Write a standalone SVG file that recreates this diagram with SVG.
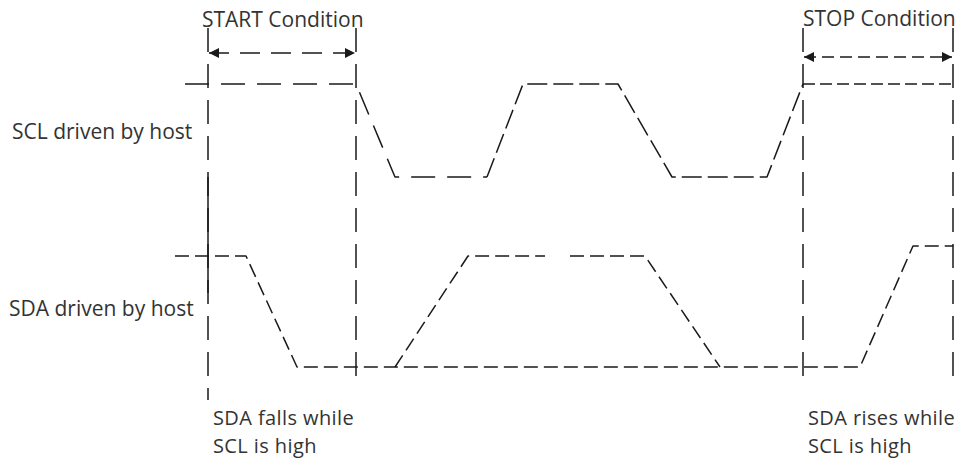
<svg xmlns="http://www.w3.org/2000/svg" width="962" height="461" viewBox="0 0 962 461">
  <style>
    .bg { fill: #ffffff; }
    .lbl { font-family: "Open Sans", "Liberation Sans", sans-serif; font-size: 21px; fill: #333333; }
    .note { font-family: "Open Sans", "Liberation Sans", sans-serif; font-size: 20px; letter-spacing: 0.4px; fill: #333333; }
    .mark { fill: none; stroke: #1a1a1a; stroke-width: 1.5; stroke-dasharray: 24 12; }
    .solid { fill: none; stroke: #1a1a1a; stroke-width: 1.5; }
    .scl { fill: none; stroke: #1a1a1a; stroke-width: 1.5; stroke-dasharray: 24 12; stroke-linejoin: round; }
    .scl2 { fill: none; stroke: #1a1a1a; stroke-width: 1.5; stroke-dasharray: 20 6; stroke-linejoin: round; }
    .scl3 { fill: none; stroke: #1a1a1a; stroke-width: 1.5; stroke-dasharray: 12 5; }
    .sda { fill: none; stroke: #1a1a1a; stroke-width: 1.5; stroke-dasharray: 14 6; stroke-linejoin: round; }
    .arr { fill: none; stroke: #1a1a1a; stroke-width: 1.5; stroke-dasharray: 20 11; }
    .arr2 { fill: none; stroke: #1a1a1a; stroke-width: 1.5; stroke-dasharray: 12 6; }
  </style>
  <defs>
    <marker id="ah" viewBox="0 0 10 10" refX="10" refY="5" markerWidth="10" markerHeight="10" markerUnits="userSpaceOnUse" orient="auto-start-reverse">
      <path d="M0,0 L10,5 L0,10 z" fill="#1a1a1a"/>
    </marker>
  </defs>
  <rect class="bg" x="0" y="0" width="962" height="461"/>

  <g id="labels">
    <text class="lbl" x="202" y="27">START Condition</text>
    <text class="lbl" x="803" y="26">STOP Condition</text>
    <text class="lbl" x="12" y="139">SCL driven by host</text>
    <text class="lbl" x="9" y="316">SDA driven by host</text>
    <text class="note" x="213" y="425">SDA falls while</text>
    <text class="note" x="213" y="453">SCL is high</text>
    <text class="note" x="808" y="425">SDA rises while</text>
    <text class="note" x="808" y="453">SCL is high</text>
  </g>

  <g id="markers">
    <line class="mark" x1="208" y1="28" x2="208" y2="400"/>
    <line class="solid" x1="208" y1="177" x2="208" y2="293"/>
    <line class="mark" x1="356" y1="28" x2="356" y2="386"/>
    <line class="mark" x1="803" y1="28" x2="803" y2="387"/>
    <line class="mark" x1="953" y1="28" x2="953" y2="387"/>
  </g>

  <g id="connectors">
    <line class="arr" x1="209" y1="53" x2="355" y2="53" marker-start="url(#ah)" marker-end="url(#ah)"/>
    <line class="arr2" x1="804" y1="57" x2="952" y2="57" marker-start="url(#ah)" marker-end="url(#ah)"/>
  </g>

  <g id="scl">
    <polyline class="scl" points="185,84 356,84 395,177 487,177"/>
    <polyline class="scl2" points="487,177 523,84 618,84 672,177 767,177 803,84"/>
    <line class="scl3" x1="803" y1="84" x2="953" y2="84"/>
  </g>

  <g id="sda">
    <polyline class="sda" points="175,256 246,256 297,367 860,367 913,246 953,246"/>
    <polyline class="sda" points="395,367 468,256 545,256"/>
    <polyline class="sda" points="570,256 645,256 720,367"/>
  </g>
</svg>
